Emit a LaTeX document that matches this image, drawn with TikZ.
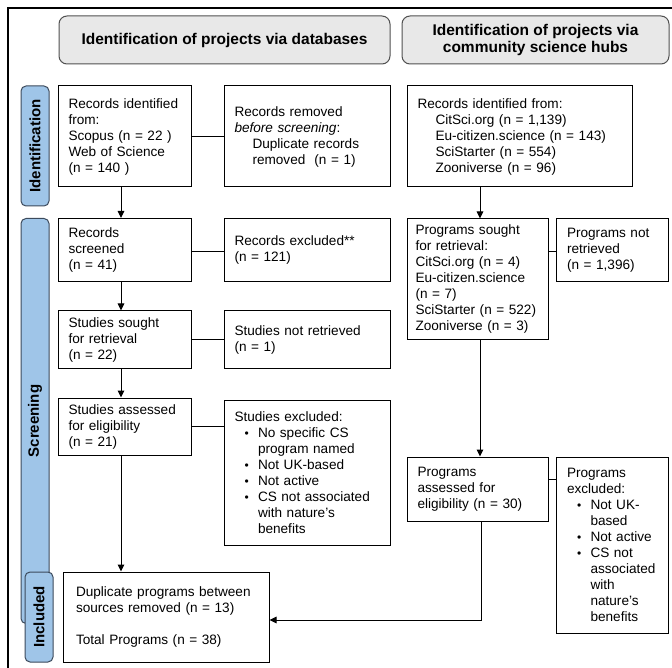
\documentclass[tikz,border=0pt]{standalone}
\usepackage{fontspec}
\setmainfont{Liberation Sans}
\usetikzlibrary{arrows.meta}
\definecolor{hdrfill}{HTML}{E8E8E8}
\definecolor{hdrline}{HTML}{505050}
\definecolor{sidefill}{HTML}{9FC5E8}
\definecolor{sideline}{HTML}{3C4A5C}
\newcommand{\bl}{\hspace*{10pt}\makebox[13.5pt][l]{\fontsize{12}{12}\selectfont •}}
\newcommand{\bi}{\hspace*{23.5pt}}
\begin{document}
\begin{tikzpicture}[x=1pt,y=-1pt,
  box/.style={draw=black, line width=1pt, align=left, inner xsep=10.5pt, inner ysep=0pt,
    font=\fontsize{13.6}{16}\selectfont},
  hdr/.style={draw=hdrline, fill=hdrfill, rounded corners=8pt, line width=1pt, align=center,
    inner sep=0pt, font=\bfseries\fontsize{15.5}{17}\selectfont},
  side/.style={draw=sideline, fill=sidefill, rounded corners=5pt, line width=1pt, rotate=90,
    inner sep=0pt, minimum height=28pt, font=\bfseries\fontsize{15}{17}\selectfont},
  arr/.style={-{Triangle[length=7pt,width=6.5pt]}, line width=1pt},
  con/.style={line width=1pt}]
\useasboundingbox (0,0) rectangle (672,668);
\fill[white] (0,0) rectangle (672,668);
% outer frame (top and left edges)
\draw[line width=2.2pt] (8,670) -- (8,8) -- (674,8);

% headers
\node[hdr, minimum width=331pt, minimum height=48pt] (H1) at (224.5,40) {Identification of projects via databases};
\node[hdr, minimum width=267pt, minimum height=48pt] (H2) at (535.5,40) {Identification of projects via\\community science hubs};

% side labels
\node[side, minimum width=120pt] (LI) at (35,146) {Identification};
\node[side, minimum width=405pt] (LS) at (35,421) {Screening};
\node[side, minimum width=90pt] (LC) at (39,617) {Included};

% database column
\node[box, text width=112pt, minimum height=101pt] (A1) at (124.5,136.5)
  {Records identified\\from:\\Scopus (n = 22 )\\Web of Science\\(n = 140 )};
\node[box, text width=145pt, minimum height=101pt] (A2) at (307,136.5)
  {Records removed\\\textit{before screening}:\\\hspace*{18pt}Duplicate records\\\hspace*{18pt}removed\ \ (n = 1)};
\node[box, text width=112pt, minimum height=63pt] (A3) at (124.5,250)
  {Records\\screened\\(n = 41)};
\node[box, text width=145pt, minimum height=63pt] (A4) at (307,250)
  {Records excluded**\\(n = 121)};
\node[box, text width=112pt, minimum height=57pt] (A5) at (124.5,339.5)
  {Studies sought\\for retrieval\\(n = 22)};
\node[box, text width=145pt, minimum height=57pt] (A6) at (307,339.5)
  {Studies not retrieved\\(n = 1)};
\node[box, text width=112pt, minimum height=57pt] (A7) at (124.5,426.5)
  {Studies assessed\\for eligibility\\(n = 21)};
\node[box, text width=145pt, minimum height=145pt] (A8) at (307,472.5)
  {Studies excluded:\\\bl No specific CS\\\bi program named\\\bl Not UK-based\\\bl Not active\\\bl CS not associated\\\bi with nature's\\\bi benefits};

% hubs column
\node[box, text width=204pt, minimum height=101pt] (B1) at (519.5,136.5)
  {Records identified from:\\\hspace*{18pt}CitSci.org (n = 1,139)\\\hspace*{18pt}Eu-citizen.science (n = 143)\\\hspace*{18pt}SciStarter (n = 554)\\\hspace*{18pt}Zooniverse (n = 96)};
\node[box, text width=124pt, inner xsep=8.5pt, minimum height=120pt] (B2) at (477.5,279)
  {Programs sought\\for retrieval:\\CitSci.org (n = 4)\\Eu-citizen.science\\(n = 7)\\\mbox{SciStarter (n = 522)}\\Zooniverse (n = 3)};
\node[box, text width=91pt, minimum height=63pt] (B3) at (612.5,250)
  {Programs not\\retrieved\\(n = 1,396)};
\node[box, text width=120pt, minimum height=64pt] (B4) at (477.5,489)
  {Programs\\assessed for\\eligibility (n = 30)};
\node[box, text width=91pt, minimum height=176pt] (B5) at (612.5,545)
  {Programs\\excluded:\\\bl Not UK-\\\bi based\\\bl Not active\\\bl CS not\\\bi associated\\\bi with\\\bi nature's\\\bi benefits};

% included
\node[box, text width=180pt, inner xsep=13pt, minimum height=90pt] (C) at (166,617)
  {Duplicate programs between\\sources removed (n = 13)\\[16pt]Total Programs (n = 38)};

% connectors
\coordinate (a1b) at ([xshift=-3.5pt]A1.south);
\coordinate (a3b) at ([xshift=-3.5pt]A3.south);
\coordinate (a5b) at ([xshift=-3.5pt]A5.south);
\coordinate (a7b) at ([xshift=-3.5pt]A7.south);
\draw[arr] (a1b) -- (a1b |- A3.north);
\draw[arr] (a3b) -- (a3b |- A5.north);
\draw[arr] (a5b) -- (a5b |- A7.north);
\draw[arr] (a7b) -- (a7b |- C.north);

\draw[con] (A1.east) -- (A2.west);
\draw[con] ([yshift=-1.5pt]A3.east) -- ([yshift=-1.5pt]A4.west);
\draw[con] (A5.east) -- (A6.west);
\draw[con] (A7.east) -- (A7.east -| A8.west);

\coordinate (b2t) at ([xshift=2.5pt]B2.north);
\draw[arr] (b2t |- B1.south) -- (b2t);
\coordinate (b2b) at ([xshift=2.5pt]B2.south);
\draw[arr] (b2b) -- (b2b |- B4.north);
\draw[con] ([yshift=-1.5pt]B3.west -| B2.east) -- ([yshift=-1.5pt]B3.west);
\draw[con] ([yshift=9.5pt]B4.east) -- ([yshift=9.5pt]B4.east -| B5.west);
\coordinate (b4b) at ([xshift=3.5pt]B4.south);
\draw[arr] (b4b) |- ([yshift=-3pt]C.east);
\end{tikzpicture}
\end{document}
